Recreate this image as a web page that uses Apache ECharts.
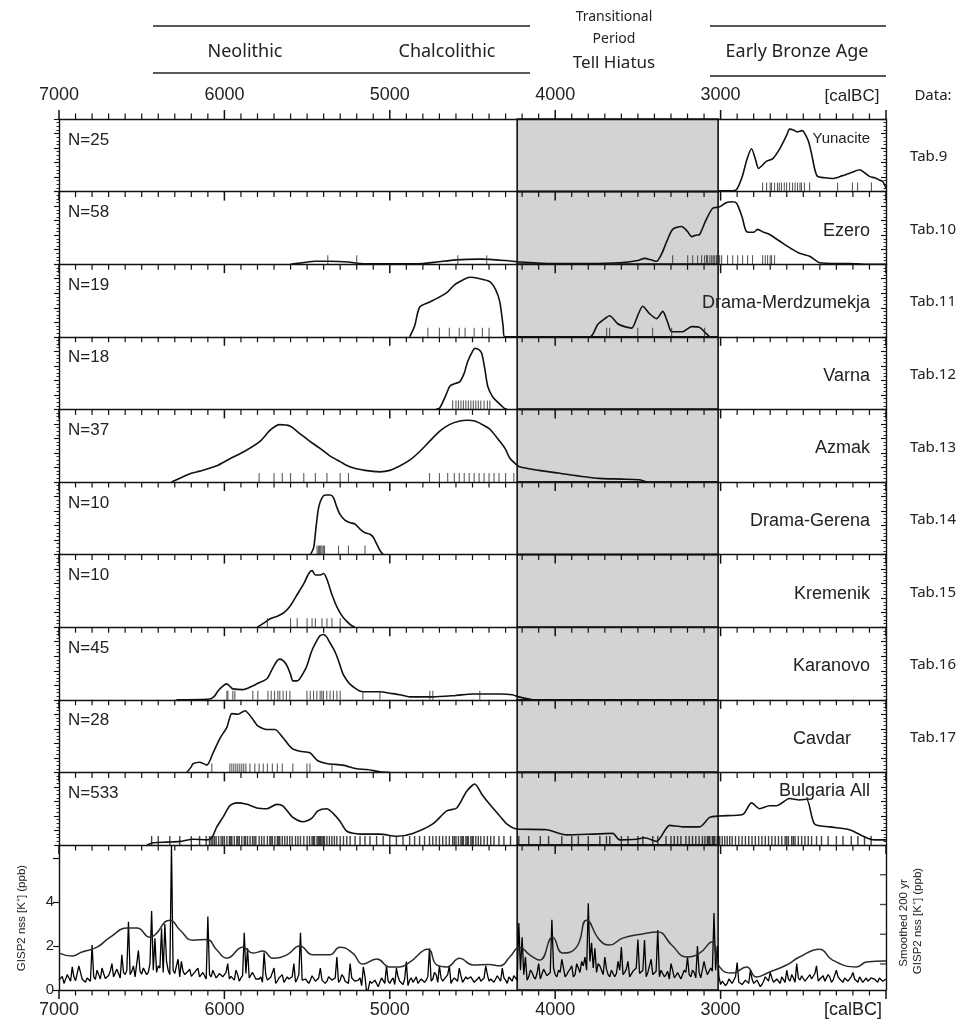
<!DOCTYPE html>
<html><head><meta charset="utf-8">
<script src="https://cdn.jsdelivr.net/npm/echarts@6/dist/echarts.min.js"></script>
<style>html,body{margin:0;padding:0;background:#fff}#c{width:972px;height:1025px}</style>
</head><body><div id="c"></div>
<script>
// ---------------- DATA ----------------
const xTicks = [7000, 6000, 5000, 4000, 3000];
const gispTicks = [0, 2, 4];
const gispRightTicks = [1, 2, 3, 4];
const hiatus = [4230, 3015];
const panelNames = ['Yunacite','Ezero','Drama-Merdzumekja','Varna','Azmak','Drama-Gerena','Kremenik','Karanovo','Cavdar','Bulgaria All'];
const panelN = ['N=25','N=58','N=19','N=18','N=37','N=10','N=10','N=45','N=28','N=533'];
const panelTabs = ['Tab.9','Tab.10','Tab.11','Tab.12','Tab.13','Tab.14','Tab.15','Tab.16','Tab.17',''];

const yunaciteCurve = [[3010,0.01],[2940,0.01],[2903,0.03],[2870,0.2],[2840,0.45],[2813,0.59],[2790,0.45],[2770,0.32],[2740,0.38],[2722,0.42],[2686,0.45],[2640,0.6],[2600,0.78],[2583,0.86],[2560,0.85],[2535,0.82],[2510,0.84],[2499,0.83],[2470,0.7],[2450,0.52],[2430,0.3],[2414,0.21],[2370,0.19],[2323,0.18],[2263,0.22],[2200,0.27],[2160,0.3],[2130,0.26],[2100,0.21],[2070,0.19],[2057,0.18],[2040,0.16],[2020,0.14],[2000,0.05]];
const ezeroCurve = [[5600,0],[5526,0.02],[5450,0.04],[5363,0.04],[5250,0.03],[5181,0.01],[5000,0.005],[4800,0.01],[4716,0.03],[4600,0.06],[4456,0.07],[4300,0.05],[4215,0.03],[4050,0.01],[3800,0.01],[3610,0.02],[3500,0.05],[3459,0.08],[3420,0.06],[3387,0.04],[3355,0.15],[3326,0.31],[3290,0.48],[3236,0.52],[3200,0.45],[3175,0.38],[3150,0.4],[3127,0.41],[3090,0.6],[3048,0.77],[3006,0.79],[2964,0.85],[2930,0.86],[2903,0.84],[2870,0.65],[2843,0.45],[2800,0.44],[2776,0.48],[2740,0.44],[2704,0.41],[2625,0.29],[2570,0.21],[2523,0.15],[2462,0.11],[2430,0.06],[2402,0.02],[2300,0.01],[2221,0.01],[2120,0],[2000,0]];
const dmCurve = [[4880,0],[4850,0.15],[4819,0.41],[4758,0.48],[4698,0.55],[4650,0.62],[4607,0.72],[4560,0.78],[4517,0.82],[4456,0.8],[4396,0.76],[4360,0.65],[4335,0.48],[4315,0.15],[4305,0],[3790,0],[3743,0.17],[3700,0.25],[3671,0.29],[3622,0.18],[3580,0.14],[3538,0.12],[3500,0.3],[3471,0.42],[3430,0.32],[3387,0.25],[3350,0.35],[3320,0.2],[3296,0.07],[3230,0.07],[3175,0.14],[3127,0.13],[3090,0.05],[3066,0]];
const varnaCurve = [[4720,0],[4698,0.02],[4660,0.2],[4637,0.32],[4600,0.36],[4577,0.38],[4550,0.5],[4529,0.66],[4500,0.8],[4486,0.84],[4460,0.82],[4444,0.77],[4425,0.55],[4408,0.32],[4380,0.18],[4353,0.11],[4320,0.04],[4305,0.01],[4290,0]];
const azmakCurve = [[6320,0],[6300,0.02],[6200,0.12],[6148,0.15],[6050,0.22],[5967,0.32],[5880,0.42],[5785,0.56],[5720,0.72],[5665,0.79],[5604,0.77],[5540,0.66],[5483,0.56],[5420,0.46],[5363,0.36],[5300,0.28],[5242,0.21],[5150,0.16],[5060,0.14],[5000,0.16],[4940,0.22],[4880,0.3],[4819,0.42],[4760,0.56],[4698,0.7],[4640,0.79],[4577,0.84],[4530,0.85],[4486,0.84],[4440,0.79],[4396,0.73],[4335,0.56],[4300,0.45],[4275,0.33],[4240,0.25],[4215,0.21],[4100,0.16],[3973,0.12],[3850,0.08],[3731,0.05],[3600,0.04],[3489,0.03],[3450,0]];
const dgCurve = [[5480,0],[5460,0.1],[5445,0.4],[5430,0.65],[5410,0.78],[5390,0.82],[5360,0.82],[5340,0.78],[5320,0.65],[5300,0.55],[5270,0.47],[5240,0.44],[5210,0.42],[5180,0.35],[5150,0.3],[5120,0.28],[5100,0.24],[5080,0.15],[5060,0.06],[5040,0]];
const kremenikCurve = [[5800,0],[5760,0.06],[5720,0.12],[5680,0.15],[5640,0.2],[5600,0.3],[5560,0.45],[5520,0.6],[5490,0.74],[5470,0.78],[5450,0.72],[5420,0.72],[5400,0.74],[5380,0.66],[5350,0.45],[5320,0.28],[5290,0.16],[5260,0.08],[5230,0.02],[5210,0]];
const karanovoCurve = [[6290,0],[6088,0.01],[6060,0.05],[6039,0.12],[6010,0.19],[5985,0.22],[5960,0.17],[5949,0.15],[5888,0.14],[5840,0.18],[5804,0.22],[5743,0.29],[5720,0.38],[5707,0.44],[5680,0.54],[5665,0.56],[5640,0.53],[5622,0.47],[5600,0.35],[5586,0.26],[5560,0.26],[5544,0.29],[5520,0.38],[5501,0.47],[5480,0.62],[5465,0.71],[5440,0.82],[5423,0.88],[5400,0.9],[5380,0.86],[5363,0.79],[5340,0.7],[5320,0.6],[5300,0.47],[5284,0.36],[5260,0.27],[5242,0.22],[5210,0.16],[5181,0.12],[5163,0.11],[5060,0.11],[5000,0.09],[4940,0.07],[4879,0.04],[4740,0.04],[4600,0.06],[4498,0.08],[4335,0.08],[4260,0.07],[4220,0.04],[4136,0]];
const cavdarCurve = [[6227,0],[6200,0.08],[6190,0.12],[6148,0.14],[6106,0.1],[6070,0.26],[6027,0.47],[5985,0.62],[5955,0.81],[5918,0.8],[5876,0.85],[5834,0.75],[5798,0.64],[5743,0.59],[5695,0.59],[5647,0.48],[5592,0.33],[5544,0.29],[5483,0.27],[5435,0.16],[5375,0.12],[5284,0.1],[5200,0.05],[5139,0.04],[5060,0.01],[5000,0]];
const bulgariaCurve = [[6468,0],[6432,0.03],[6347,0.04],[6269,0.05],[6190,0.08],[6106,0.07],[6076,0.1],[6046,0.25],[6009,0.38],[5967,0.54],[5925,0.58],[5864,0.56],[5804,0.51],[5743,0.5],[5683,0.56],[5647,0.54],[5586,0.38],[5526,0.32],[5471,0.37],[5435,0.47],[5381,0.5],[5344,0.44],[5302,0.33],[5260,0.19],[5181,0.15],[5060,0.15],[4958,0.12],[4861,0.16],[4740,0.29],[4656,0.47],[4595,0.51],[4535,0.74],[4486,0.84],[4444,0.7],[4396,0.56],[4335,0.4],[4293,0.29],[4233,0.22],[4051,0.21],[3931,0.14],[3773,0.15],[3652,0.16],[3610,0.07],[3508,0.08],[3459,0.1],[3387,0.05],[3308,0.27],[3230,0.25],[3127,0.25],[3066,0.38],[3006,0.4],[2867,0.42],[2813,0.58],[2764,0.5],[2704,0.54],[2662,0.54],[2583,0.64],[2523,0.62],[2480,0.63],[2432,0.29],[2341,0.25],[2221,0.21],[2118,0.1],[2070,0.07],[2000,0.07]];

const yunaciteRug = [2746,2722,2700,2692,2674,2656,2645,2632,2615,2601,2583,2565,2550,2535,2520,2511,2493,2462,2293,2203,2172,2088];
const ezeroRug = [5375,5200,4589,4414,3290,3199,3169,3139,3115,3097,3085,3079,3065,3054,3045,3036,3025,3018,3006,2994,2958,2927,2897,2867,2837,2807,2746,2730,2716,2700,2692,2674];
const dmRug = [4770,4700,4640,4580,4545,4490,4440,4400,3689,3671,3501,3411,3296,3097];
const varnaRug = [4620,4600,4585,4570,4555,4540,4525,4510,4495,4480,4465,4450,4430,4410,4395];
const azmakRug = [5790,5700,5650,5600,5520,5450,5380,5300,5250,4760,4700,4650,4610,4580,4550,4520,4490,4460,4430,4400,4370,4340,4300,4250];
const dgRug = [5440,5432,5425,5418,5410,5402,5395,5310,5250,5150];
const kremenikRug = [5740,5600,5560,5500,5470,5450,5410,5380,5350,5300];
const karanovoRug = [5985,5979,5949,5937,5828,5798,5737,5717,5697,5677,5665,5645,5625,5604,5501,5481,5461,5441,5421,5411,5401,5381,5361,5341,5320,5300,5163,5060,4758,4740,4456];
const cavdarRug = [6076,5967,5955,5943,5931,5919,5907,5895,5883,5870,5846,5816,5790,5765,5740,5710,5680,5650,5586,5501,5483,5350];
const bulgariaRug = [6440,6400,6330,6270,6200,6150,6110,6090,6080,6070,6060,6050,6035,6020,6010,6000,5985,5970,5962,5955,5940,5925,5918,5910,5895,5880,5872,5860,5845,5830,5820,5810,5790,5775,5760,5740,5725,5718,5710,5695,5680,5672,5665,5650,5635,5620,5605,5590,5570,5555,5540,5520,5500,5485,5470,5462,5455,5440,5432,5425,5418,5410,5402,5395,5380,5365,5350,5335,5320,5300,5280,5260,5240,5210,5180,5150,5120,5080,5040,5000,4960,4920,4880,4850,4820,4790,4760,4740,4720,4700,4680,4660,4640,4620,4610,4600,4585,4570,4562,4555,4540,4532,4525,4510,4502,4495,4480,4465,4450,4430,4410,4390,4370,4340,4310,4270,4220,4160,4090,4040,3960,3900,3860,3800,3730,3690,3670,3600,3560,3500,3470,3410,3380,3330,3300,3280,3260,3240,3210,3190,3170,3150,3130,3110,3095,3080,3072,3065,3050,3042,3035,3020,3012,3005,2990,2975,2960,2945,2930,2910,2890,2870,2850,2830,2810,2790,2770,2750,2730,2710,2690,2670,2650,2630,2610,2600,2590,2570,2560,2550,2530,2510,2490,2470,2450,2420,2390,2350,2300,2260,2210,2170,2130,2090];

const gispRaw = [[7000,.45],[6980,.62],[6960,.38],[6940,.55],[6920,1.05],[6900,.42],[6880,1.1],[6860,.5],[6840,.35],[6820,.6],
[6800,2.05],[6780,.48],[6760,.7],[6740,1.0],[6720,.52],[6700,.66],[6680,1.2],[6660,.58],[6640,.75],[6620,1.6],
[6600,.7],[6580,3.1],[6560,.85],[6540,.6],[6520,1.8],[6500,.72],[6480,.95],[6460,.8],[6440,3.6],[6420,2.35],
[6400,1.1],[6380,2.8],[6360,3.0],[6340,.9],[6320,6.6],[6300,.75],[6280,1.4],[6260,1.3],[6240,.7],[6220,.85],
[6200,.62],[6180,.8],[6160,1.0],[6140,.55],[6120,.75],[6100,3.35],[6080,.6],[6060,.82],[6040,.5],[6020,.7],
[6000,.58],[5980,1.2],[5960,.62],[5940,.45],[5920,.7],[5900,.55],[5880,2.6],[5860,1.9],[5840,.5],[5820,.65],
[5800,.42],[5780,.6],[5760,1.7],[5740,.45],[5720,.58],[5700,1.0],[5680,.4],[5660,.55],[5640,.35],[5620,.6],
[5600,.42],[5580,1.2],[5560,.5],[5540,2.6],[5520,.38],[5500,.55],[5480,.45],[5460,.62],[5440,.35],[5420,1.0],
[5400,.5],[5380,.4],[5360,.65],[5340,.42],[5320,1.5],[5300,.45],[5280,.6],[5260,.38],[5240,1.2],[5220,.5],
[5200,.35],[5180,.55],[5160,1.05],[5140,-.1],[5120,.4],[5100,.28],[5080,.5],[5060,.35],[5040,.6],[5020,1.1],
[5000,.3],[4980,.55],[4960,1.0],[4940,.4],[4920,.25],[4900,1.3],[4880,.45],[4860,.35],[4840,.6],[4820,.4],
[4800,.55],[4780,.45],[4760,1.9],[4740,.5],[4720,.7],[4700,1.1],[4680,.4],[4660,.6],[4640,1.1],[4620,.45],
[4600,.55],[4580,1.0],[4560,.35],[4540,.6],[4520,.42],[4500,.55],[4480,.3],[4460,.6],[4440,.45],[4420,1.1],
[4400,.4],[4380,.55],[4360,.32],[4340,.6],[4320,1.0],[4300,.45],[4280,.6],[4260,.4],[4240,.7],[4220,3.05],
[4200,2.4],[4180,1.5],[4160,.6],[4140,.8],[4120,.5],[4100,1.2],[4080,.55],[4060,.8],[4040,.6],[4020,3.2],
[4000,.7],[3980,.9],[3960,1.4],[3940,.6],[3920,.85],[3900,1.1],[3880,.7],[3860,1.0],[3840,1.3],[3820,1.5],
[3800,3.95],[3780,2.15],[3760,1.9],[3740,1.2],[3720,.9],[3700,1.5],[3680,.7],[3660,.9],[3640,.6],[3620,1.3],
[3600,1.95],[3580,.8],[3560,1.3],[3540,.6],[3520,.9],[3500,2.3],[3480,.7],[3460,2.27],[3440,.8],[3420,1.4],
[3400,.7],[3380,2.73],[3360,.9],[3340,.6],[3320,.85],[3300,1.2],[3280,.55],[3260,.8],[3240,.5],[3220,.9],
[3200,1.5],[3180,.6],[3160,.8],[3140,2.0],[3120,.55],[3100,1.3],[3080,.7],[3060,1.0],[3040,3.5],[3020,2.0],
[3000,.25],[2980,.45],[2960,.3],[2940,.55],[2920,.35],[2900,1.25],[2880,.4],[2860,.2],[2840,.5],[2820,.9],
[2800,.3],[2780,.45],[2760,.15],[2740,.4],[2720,.55],[2700,.8],[2680,.35],[2660,.5],[2640,.3],[2620,.6],
[2600,.9],[2580,.4],[2560,.55],[2540,1.2],[2520,.45],[2500,.6],[2480,.35],[2460,.7],[2440,.45],[2420,1.1],
[2400,.5],[2380,.65],[2360,.4],[2340,.6],[2320,.45],[2300,.9],[2280,.5],[2260,.35],[2240,.6],[2220,.4],
[2200,.8],[2180,.45],[2160,.6],[2140,.35],[2120,.55],[2100,.4],[2080,.6],[2060,.45],[2040,.55],[2020,.4],[2000,.5]];

// in-between samples of the raw record (odd decades)
const gispRawMid = [[6990,.5],[6970,.3],[6950,.7],[6930,.4],[6910,.6],[6890,.35],[6870,.8],[6850,.45],[6830,.55],[6810,.4],
[6790,.6],[6770,.9],[6750,.5],[6730,.75],[6710,.45],[6690,.85],[6670,.6],[6650,.95],[6630,.55],[6610,.8],
[6590,.9],[6570,.7],[6550,1.1],[6530,.65],[6510,.85],[6490,1.0],[6470,.7],[6450,1.2],[6430,.9],[6410,.8],
[6390,1.0],[6370,.8],[6350,1.3],[6330,.7],[6310,.9],[6290,1.1],[6270,.6],[6250,.85],[6230,.75],[6210,.95],
[6190,.7],[6170,.9],[6150,.6],[6130,.8],[6110,.5],[6090,.7],[6070,.9],[6050,.55],[6030,.75],[6010,.6],
[5990,.8],[5970,.5],[5950,.7],[5930,.9],[5910,.4],[5890,.65],[5870,.75],[5850,.55],[5830,.8],[5810,.5],
[5790,.5],[5770,.35],[5750,.7],[5730,.45],[5710,.6],[5690,.3],[5670,.55],[5650,.7],[5630,.4],[5610,.5],
[5590,.6],[5570,.35],[5550,.7],[5530,.45],[5510,.5],[5490,.3],[5470,.65],[5450,.4],[5430,.55],[5410,.45],
[5390,.3],[5370,.6],[5350,.45],[5330,.55],[5310,.35],[5290,.7],[5270,.4],[5250,.3],[5230,.55],[5210,.4],
[5190,.45],[5170,.2],[5150,.6],[5130,.05],[5110,.3],[5090,.45],[5070,.15],[5050,.55],[5030,.3],[5010,.4],
[4990,.45],[4970,.25],[4950,.6],[4930,.35],[4910,.5],[4890,.2],[4870,.55],[4850,.4],[4830,.3],[4810,.5],
[4790,.35],[4770,.6],[4750,.4],[4730,.8],[4710,.35],[4690,.55],[4670,.45],[4650,.7],[4630,.3],[4610,.55],
[4590,.4],[4570,.65],[4550,.3],[4530,.5],[4510,.6],[4490,.35],[4470,.5],[4450,.4],[4430,.55],[4410,.7],
[4390,.5],[4370,.35],[4350,.65],[4330,.4],[4310,.55],[4290,.3],[4270,.5],[4250,.65],[4230,.45],[4210,.9],
[4190,.7],[4170,.45],[4150,.9],[4130,.6],[4110,.75],[4090,.5],[4070,.95],[4050,.65],[4030,.8],[4010,1.0],
[3990,.6],[3970,.8],[3950,1.0],[3930,.7],[3910,.95],[3890,.6],[3870,1.2],[3850,.8],[3830,1.1],[3810,.9],
[3790,1.3],[3770,1.0],[3750,.8],[3730,1.1],[3710,.7],[3690,.95],[3670,.6],[3650,.85],[3630,.75],[3610,.9],
[3590,.7],[3570,.95],[3550,.6],[3530,.85],[3510,1.0],[3490,.75],[3470,.9],[3450,.6],[3430,1.1],[3410,.7],
[3390,.85],[3370,.6],[3350,.95],[3330,.7],[3310,.5],[3290,.9],[3270,.65],[3250,.75],[3230,.55],[3210,.8],
[3190,.7],[3170,.9],[3150,.55],[3130,.8],[3110,.6],[3090,.95],[3070,.75],[3050,.85],[3030,.9],[3010,.6],
[2990,.4],[2970,.2],[2950,.5],[2930,.3],[2910,.6],[2890,.35],[2870,.25],[2850,.45],[2830,.3],[2810,.5],
[2790,.35],[2770,.5],[2750,.25],[2730,.6],[2710,.4],[2690,.55],[2670,.3],[2650,.45],[2630,.6],[2610,.35],
[2590,.5],[2570,.7],[2550,.35],[2530,.55],[2510,.65],[2490,.4],[2470,.6],[2450,.5],[2430,.75],[2410,.4],
[2390,.55],[2370,.4],[2350,.7],[2330,.35],[2310,.5],[2290,.6],[2270,.45],[2250,.55],[2230,.4],[2210,.6],
[2190,.5],[2170,.35],[2150,.6],[2130,.45],[2110,.4],[2090,.55],[2070,.5],[2050,.35],[2030,.6],[2010,.45]];

const gispSmooth = [[7000,1.68],[6921,1.55],[6861,1.73],[6770,1.95],[6692,2.4],[6583,2.82],[6529,2.82],[6450,2.4],[6408,2.6],[6359,3.1],[6329,3.18],[6269,2.73],[6190,2.27],[6106,2.3],[6046,1.82],[5985,1.45],[5888,1.95],[5828,1.68],[5767,1.77],[5707,1.45],[5622,1.6],[5544,2.0],[5465,1.6],[5363,1.6],[5302,1.95],[5224,1.68],[5163,1.18],[5079,1.41],[5000,1.05],[4940,1.05],[4879,1.27],[4770,1.86],[4716,1.14],[4656,1.05],[4577,1.45],[4498,1.14],[4400,1.16],[4335,1.1],[4275,1.5],[4215,1.95],[4154,1.6],[4094,1.36],[4015,2.4],[3955,1.68],[3871,1.95],[3810,3.18],[3731,2.27],[3671,2.05],[3592,2.36],[3471,2.55],[3380,2.64],[3296,2.05],[3205,1.5],[3127,1.68],[3054,2.18],[3006,1.05],[2927,0.77],[2843,1.05],[2783,0.59],[2704,0.82],[2601,1.14],[2523,1.5],[2402,1.86],[2323,1.36],[2178,1.05],[2118,1.27],[2009,1.32],[2000,1.32]];

const curves = [yunaciteCurve, ezeroCurve, dmCurve, varnaCurve, azmakCurve, dgCurve, kremenikCurve, karanovoCurve, cavdarCurve, bulgariaCurve];
const rugs = [yunaciteRug, ezeroRug, dmRug, varnaRug, azmakRug, dgRug, kremenikRug, karanovoRug, cavdarRug, bulgariaRug];

// ---------------- LAYOUT ----------------
const L = 59, W = 827, TOP = 119, PH = 72.6, GT = 845, GH = 145;
const INK = '#111';
const LAB = '"Liberation Sans", Arial, sans-serif';
const HUM = '"Noto Sans", "Open Sans", sans-serif';
const X_MIN = 2000, X_MAX = 7000, MINOR_STEP = 100, MAJOR_STEP = 1000;
const MAJ_LEN = 9, MIN_LEN = 5.5;

// tick positions along the time axis (axis furniture, not data)
const majorYears = [], minorYears = [];
for (let v = X_MIN; v <= X_MAX; v += MINOR_STEP) (v % MAJOR_STEP === 0 ? majorYears : minorYears).push(v);

const grid = [], xAxis = [], yAxis = [], series = [];
const tickLS = (w) => ({ color: INK, width: w });

function addX(gi, pos, labelMargin) {
  const idx = xAxis.length;
  xAxis.push({ gridIndex: gi, type: 'value', min: X_MIN, max: X_MAX, inverse: true, interval: MAJOR_STEP, position: pos, z: 6,
    axisLine: { show: true, onZero: false, lineStyle: tickLS(1.4) },
    axisTick: { show: false },
    splitLine: { show: false },
    axisLabel: labelMargin ? { show: true, fontFamily: LAB, fontSize: 18, color: '#222', margin: labelMargin,
      formatter: v => (xTicks.indexOf(v) >= 0 ? String(v) : '') } : { show: false } });
  return idx;
}
function addY(gi, pos, inside, min, max, iv, miv, len) {
  const major = yAxis.length;
  yAxis.push({ gridIndex: gi, min, max, interval: iv, position: pos, offset: 0, z: 6,
    axisLine: { show: true, onZero: false, lineStyle: tickLS(1.4) },
    axisTick: { show: true, inside, length: len, lineStyle: tickLS(1.1) },
    axisLabel: { show: false }, splitLine: { show: false } });
  if (miv) yAxis.push({ gridIndex: gi, min, max, interval: miv, position: pos, offset: 0, z: 6,
    axisLine: { show: false, onZero: false },
    axisTick: { show: true, inside, length: 2.5, lineStyle: tickLS(0.9) },
    axisLabel: { show: false }, splitLine: { show: false } });
  return major;
}
const bandArea = (xi, yi) => ({
  type: 'line', xAxisIndex: xi, yAxisIndex: yi, data: [], z: 1, silent: true,
  markArea: { silent: true, itemStyle: { color: '#d3d3d3', borderColor: INK, borderWidth: 1.6 },
    data: [[{ xAxis: hiatus[0] }, { xAxis: hiatus[1] }]] }
});
// time-axis ticks as small bars placed through the panel's own scales.
// edge: axis value of the panel edge; dir: +1 hangs downward, -1 points upward; span: axis units per pixel
function tickSeries(xi, yi, edge, dir, unitsPerPx) {
  const mk = (years, len, w) => ({ type: 'scatter', xAxisIndex: xi, yAxisIndex: yi, z: 8, silent: true, clip: false,
    symbol: 'rect', symbolSize: [w, len], itemStyle: { color: INK, opacity: 1 },
    data: years.map(v => [v, edge - dir * (len / 2) * unitsPerPx]) });
  series.push(mk(majorYears, MAJ_LEN, 1.5), mk(minorYears, MIN_LEN, 1.2));
}

for (let i = 0; i < 10; i++) {
  grid.push({ left: L, width: W, top: TOP + i * PH, height: PH });
  const xi = addX(i, 'top', i === 0 ? 15 : 0);
  const yi = addY(i, 'left', false, 0, 1, 0.2, 0.05, 5);
  addY(i, 'right', true, 0, 1, 0.2, 0.05, 5);
  series.push(bandArea(xi, yi));
  series.push({ type: 'line', xAxisIndex: xi, yAxisIndex: yi, data: curves[i], showSymbol: false, smooth: 0.25,
    lineStyle: { color: INK, width: 1.6 }, z: 3, silent: true });
  series.push({ type: 'scatter', xAxisIndex: xi, yAxisIndex: yi, data: rugs[i].map(v => [v, 0.062]),
    symbol: 'rect', symbolSize: [i === 9 ? 1.4 : 1.1, 9], itemStyle: { color: i === 9 ? '#111' : '#333' }, z: 3, silent: true });
  tickSeries(xi, yi, 1, i === 0 ? -1 : 1, 1 / PH);
}
// GISP2 panel
grid.push({ left: L, width: W, top: GT, height: GH });
addX(10, 'top', 0);
const gx = addX(10, 'bottom', 11);
const gy = yAxis.length;
yAxis.push({ gridIndex: 10, min: 0, max: 6.6, interval: 2, position: 'left', z: 6,
  axisLine: { show: true, lineStyle: tickLS(1.4) },
  axisTick: { show: true, length: 6, lineStyle: tickLS(1.2) },
  axisLabel: { show: true, fontFamily: LAB, fontSize: 15, color: '#222', margin: 5, showMaxLabel: false,
    formatter: v => (gispTicks.indexOf(v) >= 0 ? String(v) : '') },
  splitLine: { show: false } });
const gyr = yAxis.length;
yAxis.push({ gridIndex: 10, position: 'right', min: 0.125, max: 5.0, z: 6,
  axisLine: { show: true, lineStyle: tickLS(1.4) },
  axisTick: { show: false }, axisLabel: { show: false }, splitLine: { show: false } });
series.push(bandArea(gx, gy));
const gispAll = gispRaw.concat(gispRawMid).sort((a, b) => b[0] - a[0]);
series.push({ type: 'line', xAxisIndex: gx, yAxisIndex: gy, data: gispAll, showSymbol: false,
  lineStyle: { color: '#000', width: 1.3 }, z: 3, silent: true });
series.push({ type: 'line', xAxisIndex: gx, yAxisIndex: gy, data: gispSmooth, showSymbol: false, smooth: 0.5,
  lineStyle: { color: '#2a2a2a', width: 1.5 }, z: 4, silent: true });
tickSeries(gx, gy, 6.6, 1, 6.6 / GH);
tickSeries(gx, gy, 0, 1, 6.6 / GH);
// right-hand ticks of the smoothed-record axis
series.push({ type: 'scatter', xAxisIndex: gx, yAxisIndex: gyr, z: 8, silent: true, clip: false,
  symbol: 'rect', symbolSize: [6, 1.3], symbolOffset: [-3, 0], itemStyle: { color: INK },
  data: gispRightTicks.map(v => [X_MIN, v]) });

// ---------------- TEXT / DECORATION ----------------
const graphic = [];
const txt = (x, y, s, o) => graphic.push(Object.assign({ type: 'text', x: x, y: y, z: 10, silent: true,
  style: Object.assign({ text: s, fill: '#222', font: '18px ' + LAB, textAlign: 'left', textVerticalAlign: 'middle', align: 'left', verticalAlign: 'middle' }, o && o.style) }, o && o.el));
const line = (x1, y1, x2, y2, w) => graphic.push({ type: 'line', z: 10, silent: true, shape: { x1, y1, x2, y2 }, style: { stroke: '#222', lineWidth: w || 1.4 } });

for (let i = 0; i < 10; i++) {
  const t = TOP + i * PH;
  txt(68, t + 21, panelN[i], { style: { font: '17px ' + LAB } });
  const nameY = i === 0 ? t + 20 : (i === 9 ? t + 19 : t + 39);
  const nameFont = i === 0 ? '15px ' : '18px ';
  const nameX = i === 8 ? 851 : 870;
  txt(nameX, nameY, panelNames[i], { style: { font: nameFont + LAB, textAlign: 'right', align: 'right' } });
  if (panelTabs[i]) txt(910, t + 38, panelTabs[i], { style: { font: '15px ' + HUM } });
}
// header
line(153, 26, 530, 26); line(153, 73, 530, 73);
line(710, 26, 886, 26); line(710, 76, 886, 76);
const hc = { textAlign: 'center', align: 'center' };
txt(245, 52, 'Neolithic', { style: Object.assign({ font: '18px ' + HUM }, hc) });
txt(447, 52, 'Chalcolithic', { style: Object.assign({ font: '18px ' + HUM }, hc) });
txt(614, 17, 'Transitional', { style: Object.assign({ font: '14px ' + HUM }, hc) });
txt(614, 39, 'Period', { style: Object.assign({ font: '14px ' + HUM }, hc) });
txt(614, 63, 'Tell Hiatus', { style: Object.assign({ font: '17px ' + HUM }, hc) });
txt(797, 52, 'Early Bronze Age', { style: Object.assign({ font: '18px ' + HUM }, hc) });
txt(852, 96, '[calBC]', { style: Object.assign({ font: '17px ' + LAB }, hc) });
txt(933, 96, 'Data:', { style: Object.assign({ font: '15px ' + HUM }, hc) });
txt(853, 1010, '[calBC]', { style: Object.assign({ font: '18px ' + LAB }, hc) });
// axis names (rotated)
txt(22, 918, 'GISP2 nss [K\u207A] (ppb)', { style: Object.assign({ font: '11.5px ' + LAB }, hc), el: { rotation: Math.PI / 2 } });
txt(904, 923, 'Smoothed 200 yr', { style: Object.assign({ font: '11.5px ' + LAB }, hc), el: { rotation: Math.PI / 2 } });
txt(918, 921, 'GISP2 nss [K\u207A] (ppb)', { style: Object.assign({ font: '11.5px ' + LAB }, hc), el: { rotation: Math.PI / 2 } });

const chart = echarts.init(document.getElementById('c'), null, { renderer: 'canvas' });
chart.setOption({ animation: false, backgroundColor: '#fff', grid, xAxis, yAxis, series, graphic });
</script></body></html>
